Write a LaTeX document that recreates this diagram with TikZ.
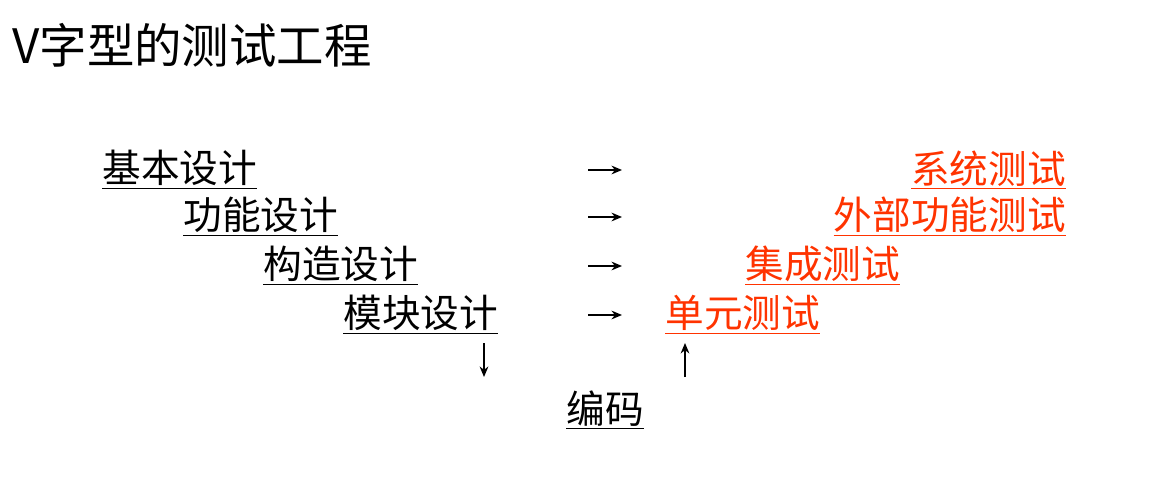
\documentclass[tikz,border=0pt]{standalone}
\usepackage{fontspec}
\setmainfont{Liberation Sans}
\newfontfamily\cjk{Noto Sans CJK SC}
\usetikzlibrary{calc,arrows.meta}
\definecolor{testred}{RGB}{255,51,0}
\tikzset{
    item/.style={
            inner sep=0pt,
            font=\cjk\fontsize{22}{22}\selectfont,
            {#1}
        },
    item/.default={black}
}
\tikzset{
    shortarrow/.style={
            -{Stealth[length=6pt,width=5pt]},
            thick
        }
}
\newcommand{\ul}[1]{\underline{#1}}

\begin{document}
\begin{tikzpicture}[x=0.02cm, y=-0.02cm]
    \useasboundingbox (0,0) rectangle (1173,486);
    \node[item, anchor=west, font=\cjk\fontsize{27}{27}\selectfont] (title) at (12,45) {V字型的测试工程};
    %
    \node[item, anchor=west] (basic) at (102,170) {\ul{基本设计}};
    \node[item, anchor=west] (func) at (183,217) {\ul{功能设计}};
    \node[item, anchor=west] (struct) at (263,266) {\ul{构造设计}};
    \node[item, anchor=west] (module) at (343,315) {\ul{模块设计}};
    %
    \node[item=testred, anchor=east] (system) at (1066,170) {\ul{系统测试}};
    \node[item=testred, anchor=east] (external) at (1066,217) {\ul{外部功能测试}};
    \node[item=testred, anchor=west] (integ) at (745,266) {\ul{集成测试}};
    \node[item=testred, anchor=west] (unit) at (665,315) {\ul{单元测试}};
    %
    \node[item] (code) at (605,410) {\ul{编码}};
    %
    \foreach \y in {170,217,266,315}
        \draw[shortarrow] (588,\y) -- (622,\y);
    \coordinate (downtop) at (484,343);
    \coordinate (downbot) at (484,377);
    \coordinate (uptop) at (685,343);
    \coordinate (upbot) at (685,377);
    \draw[shortarrow] (downtop) -- (downbot);
    \draw[shortarrow] (upbot) -- (uptop);
\end{tikzpicture}
\end{document}
